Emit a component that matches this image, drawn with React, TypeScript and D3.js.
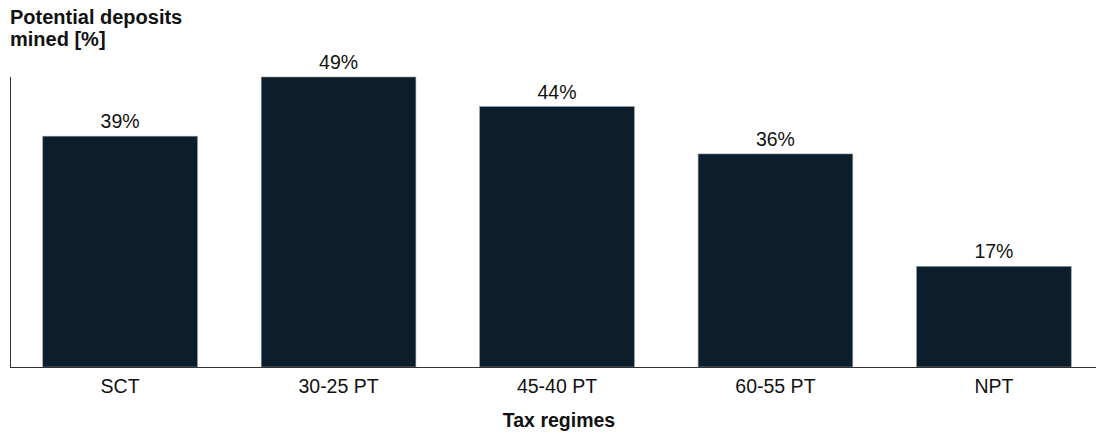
import React from "react";
import * as d3 from "d3";

const categories: string[] = ["SCT", "30-25 PT", "45-40 PT", "60-55 PT", "NPT"];
const minedShare: number[] = [39, 49, 44, 36, 17];
const valueLabels: string[] = minedShare.map((v) => `${v}%`);
const yTitleLines: string[] = ["Potential deposits", "mined [%]"];
const xTitle = "Tax regimes";

const W = 1096;
const H = 437;
const FONT = "'Liberation Sans', Arial, Helvetica, sans-serif";
const BAR = "#0c1d2c";
const INK = "#111";

export default function App() {
  const x = d3
    .scaleBand<string>()
    .domain(categories)
    .range([10, 1104])
    .paddingInner(0.292)
    .paddingOuter(0.15);
  const y = d3.scaleLinear().domain([0, 49]).range([367, 77]);
  const base = y(0);
  const cx = (c: string) => x(c)! + x.bandwidth() / 2;

  return (
    <svg
      width={W}
      height={H}
      style={{ position: "absolute", left: 0, top: 0, background: "#fff" }}
      fontFamily={FONT}
    >
      {yTitleLines.map((t, i) => (
        <text key={t} x={10} y={24 + i * 22} fontSize={20} fontWeight={700} fill={INK}>
          {t}
        </text>
      ))}

      {categories.map((c, i) => (
        <rect
          key={c}
          x={x(c)!}
          y={y(minedShare[i])}
          width={x.bandwidth()}
          height={base - y(minedShare[i])}
          fill={BAR}
          stroke="#8d959c"
          strokeWidth={0.6}
        />
      ))}

      {categories.map((c, i) => (
        <text
          key={c + "-v"}
          x={cx(c)}
          y={y(minedShare[i]) - 8}
          textAnchor="middle"
          fontSize={19.5}
          fill={INK}
        >
          {valueLabels[i]}
        </text>
      ))}

      <line x1={10.5} x2={10.5} y1={y(49)} y2={base} stroke="#333" strokeWidth={1} />
      <line x1={10} x2={W} y1={base + 0.5} y2={base + 0.5} stroke="#333" strokeWidth={1} />

      {categories.map((c) => (
        <text key={c + "-t"} x={cx(c)} y={393} textAnchor="middle" fontSize={19.5} fill={INK}>
          {c}
        </text>
      ))}

      <text x={559} y={427} textAnchor="middle" fontSize={19.5} fontWeight={700} fill={INK}>
        {xTitle}
      </text>
    </svg>
  );
}
